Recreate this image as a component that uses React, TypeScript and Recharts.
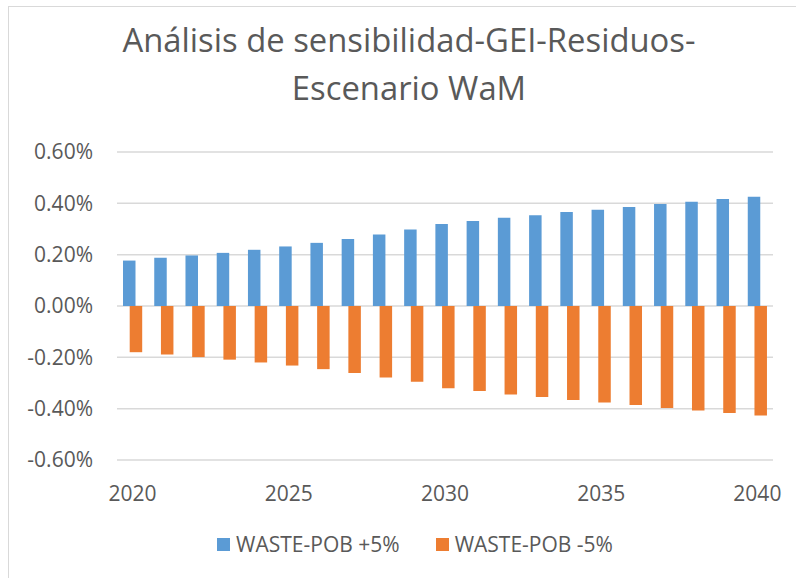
import { BarChart, Bar, XAxis, YAxis, CartesianGrid } from 'recharts'

const years = [
  2020, 2021, 2022, 2023, 2024, 2025, 2026, 2027, 2028, 2029, 2030,
  2031, 2032, 2033, 2034, 2035, 2036, 2037, 2038, 2039, 2040,
]
// valores en %
const plus5 = [
  0.177, 0.188, 0.197, 0.207, 0.219, 0.232, 0.246, 0.261, 0.279, 0.298, 0.319,
  0.331, 0.344, 0.354, 0.366, 0.375, 0.386, 0.397, 0.406, 0.417, 0.426,
]
const minus5 = [
  -0.18, -0.189, -0.199, -0.209, -0.22, -0.232, -0.246, -0.261, -0.279, -0.295, -0.32,
  -0.331, -0.345, -0.355, -0.366, -0.376, -0.386, -0.397, -0.407, -0.417, -0.427,
]
const yTicks = [-0.6, -0.4, -0.2, 0, 0.2, 0.4, 0.6]
const titleLines = ['Análisis de sensibilidad-GEI-Residuos-', 'Escenario WaM']
const seriesNames = ['WASTE-POB +5%', 'WASTE-POB -5%']

const BLUE = '#5B9BD5'
const ORANGE = '#ED7D31'
const TEXT = '#595959'
const FONT = '"Open Sans", sans-serif'

const data = years.map((y, i) => ({ year: y, up: plus5[i], down: minus5[i] }))

export default function App() {
  return (
    <div style={{ position: 'absolute', left: 0, top: 0, width: 796, height: 578,
                  overflow: 'hidden', background: '#fff', fontFamily: FONT }}>
      <div style={{ position: 'absolute', left: 8, top: 6, width: 900, height: 700,
                    border: '1.5px solid #d9d9d9' }} />

      {/* título */}
      <div style={{ position: 'absolute', left: 0, width: 818, top: 16, textAlign: 'center',
                    fontSize: 32.8, lineHeight: '48px', color: TEXT }}>
        {titleLines.map((t) => <div key={t}>{t}</div>)}
      </div>

      <div style={{ position: 'absolute', left: 0, top: 0 }}>
        <BarChart width={796} height={578} data={data} barSize={12.5} barGap={-5.8}
                  margin={{ top: 152, right: 23, bottom: 68, left: 0 }}>
          <CartesianGrid vertical={false} stroke="#d9d9d9" strokeWidth={1.5} />
          <XAxis dataKey="year" interval={4} axisLine={false} tickLine={false}
                 tickSize={0} tickMargin={26} height={50}
                 tick={{ fill: TEXT, fontSize: 21, fontFamily: FONT }} />
          <YAxis domain={[-0.6, 0.6]} ticks={yTicks} width={117} axisLine={false}
                 tickLine={false} tickSize={0} tickMargin={24} interval={0}
                 tickFormatter={(v: number) => `${v.toFixed(2)}%`}
                 tick={{ fill: TEXT, fontSize: 21, fontFamily: FONT }} />
          <Bar dataKey="up" fill={BLUE} isAnimationActive={false} />
          <Bar dataKey="down" fill={ORANGE} isAnimationActive={false} />
        </BarChart>
      </div>

      {/* leyenda */}
      <div style={{ position: 'absolute', left: 0, width: 830, top: 530, display: 'flex',
                    justifyContent: 'center', gap: 36, fontSize: 21, color: TEXT }}>
        {seriesNames.map((n, i) => (
          <div key={n} style={{ display: 'flex', alignItems: 'center', gap: 6 }}>
            <span style={{ width: 13, height: 13, background: i === 0 ? BLUE : ORANGE }} />
            <span>{n}</span>
          </div>
        ))}
      </div>
    </div>
  )
}
